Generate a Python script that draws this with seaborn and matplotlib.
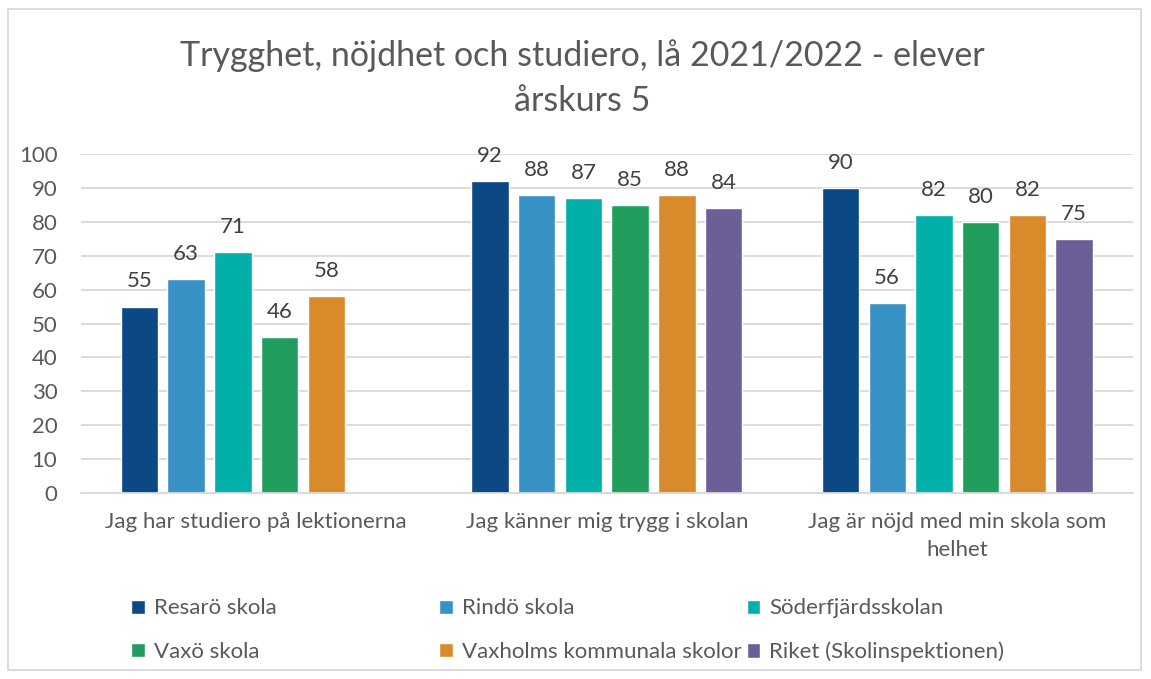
import pandas as pd
import seaborn as sns
import matplotlib.pyplot as plt
from matplotlib.patches import Rectangle

# Data
questions = [
    "Jag har studiero på lektionerna",
    "Jag känner mig trygg i skolan",
    "Jag är nöjd med min skola som\nhelhet",
]
schools = [
    "Resarö skola",
    "Rindö skola",
    "Söderfjärdsskolan",
    "Vaxö skola",
    "Vaxholms kommunala skolor",
    "Riket (Skolinspektionen)",
]
resaro = [55, 92, 90]
rindo = [63, 88, 56]
soderfjard = [71, 87, 82]
vaxo = [46, 85, 80]
vaxholm = [58, 88, 82]
riket = [None, 84, 75]

colors = ["#0b4884", "#3892c6", "#00b0a9", "#219e5d", "#d98b2b", "#6c5f97"]

rows = []
for school, vals in zip(schools, [resaro, rindo, soderfjard, vaxo, vaxholm, riket]):
    for q, v in zip(questions, vals):
        if v is not None:
            rows.append({"Fråga": q, "Skola": school, "Andel": v})
df = pd.DataFrame(rows)

sns.set_style("white")
plt.rcParams["font.family"] = ["Lato", "DejaVu Sans"]
text_col = "#595959"

fig = plt.figure(figsize=(11.51, 6.79), dpi=100)
ax = fig.add_axes([0.0704, 0.274, 0.9136, 0.499])

sns.barplot(
    data=df, x="Fråga", y="Andel", hue="Skola",
    order=questions, hue_order=schools, palette=colors,
    width=0.8, gap=0.2, saturation=1, errorbar=None, ax=ax,
)

for cont in ax.containers:
    ax.bar_label(cont, fmt="%.0f", padding=11, fontsize=16, color="#404040")

ax.set_ylim(0, 100)
ax.set_yticks(range(0, 101, 10))
ax.yaxis.grid(True, color="#d9d9d9", linewidth=1.3)
ax.set_axisbelow(True)
for side in ["left", "right", "top"]:
    ax.spines[side].set_visible(False)
ax.spines["bottom"].set_color("#d9d9d9")
ax.spines["bottom"].set_linewidth(1.3)
ax.tick_params(axis="both", length=0, labelsize=16, labelcolor=text_col)
ax.tick_params(axis="x", pad=14)
ax.tick_params(axis="y", pad=17)
for t in ax.get_xticklabels():
    t.set_linespacing(1.5)
ax.set_xlabel("")
ax.set_ylabel("")

handles, labels = ax.get_legend_handles_labels()
ax.get_legend().remove()

# three legend columns at even spacing, like the original
for i, x0 in enumerate([0.1045, 0.372, 0.639]):
    idx = [i, i + 3]
    fig.legend(
        [handles[j] for j in idx], [labels[j] for j in idx],
        loc="upper left", bbox_to_anchor=(x0, 0.135),
        bbox_transform=fig.transFigure, frameon=False, fontsize=16,
        labelcolor=text_col, handlelength=0.6, handleheight=0.6,
        handletextpad=0.4, labelspacing=1.05, borderpad=0,
    )

fig.text(0.506, 0.885, "Trygghet, nöjdhet och studiero, lå 2021/2022 - elever\nårskurs 5",
         ha="center", va="center", fontsize=24.5, color=text_col, linespacing=1.5)

fig.patches.append(Rectangle((8 / 1151, 1 - 670 / 679), 1133 / 1151, 661 / 679,
                             transform=fig.transFigure, fill=False,
                             edgecolor="#d9d9d9", linewidth=1.3))

fig.savefig("out.png", dpi=100)
